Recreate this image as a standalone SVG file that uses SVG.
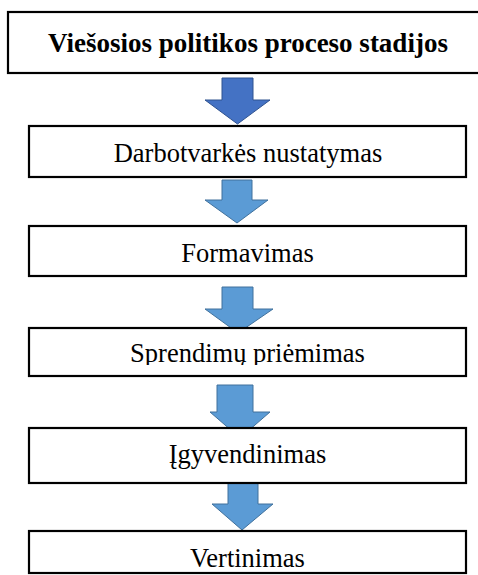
<svg xmlns="http://www.w3.org/2000/svg" width="478" height="575" viewBox="0 0 478 575">
<style>
.box{fill:#fff;stroke:#000;stroke-width:2.2}
text{font-family:'Liberation Serif','Times New Roman',serif;font-size:26.5px;fill:#000;text-anchor:middle}
.b{font-weight:bold;font-size:27px}
.a1{fill:#4472C4;stroke:#2F528F;stroke-width:1}
.a{fill:#5B9BD5;stroke:#41719C;stroke-width:1}
</style>
<defs>
<clipPath id="c3"><rect x="0" y="328" width="478" height="37"/></clipPath>
</defs>
<g id="connectors">
<path class="a1" d="M222,78 H253 V100 H270 L237.5,124 L205,100 H222 Z"/>
<path class="a" d="M222,180 H252 V200 H268 L237,223 L205,200 H222 Z"/>
<path class="a" d="M222,287 H253 V309 H273 L238,333 L205,309 H222 Z"/>
<path class="a" d="M217,385 H253 V412 H270 L240,438 L210,412 H217 Z"/>
<path class="a" d="M228,482 H258 V504 H273 L242,530 L212,504 H228 Z"/>
</g>
<g id="n0">
<rect class="box" x="8" y="12" width="480" height="61"/>
<text class="b" x="248" y="52">Viešosios politikos proceso stadijos</text>
</g>
<g id="n1">
<rect class="box" x="29" y="126" width="437" height="51"/>
<text x="248" y="162">Darbotvarkės nustatymas</text>
</g>
<g id="n2">
<rect class="box" x="29" y="226" width="437" height="50"/>
<text x="247.5" y="262">Formavimas</text>
</g>
<g id="n3">
<rect class="box" x="29" y="328" width="437" height="48"/>
<text x="247.5" y="362" clip-path="url(#c3)">Sprendimų priėmimas</text>
</g>
<g id="n4">
<rect class="box" x="29" y="428" width="437" height="55"/>
<text x="247.5" y="463">Įgyvendinimas</text>
</g>
<g id="n5">
<rect class="box" x="29" y="531" width="437" height="42"/>
<text x="247.5" y="567">Vertinimas</text>
</g>
</svg>
